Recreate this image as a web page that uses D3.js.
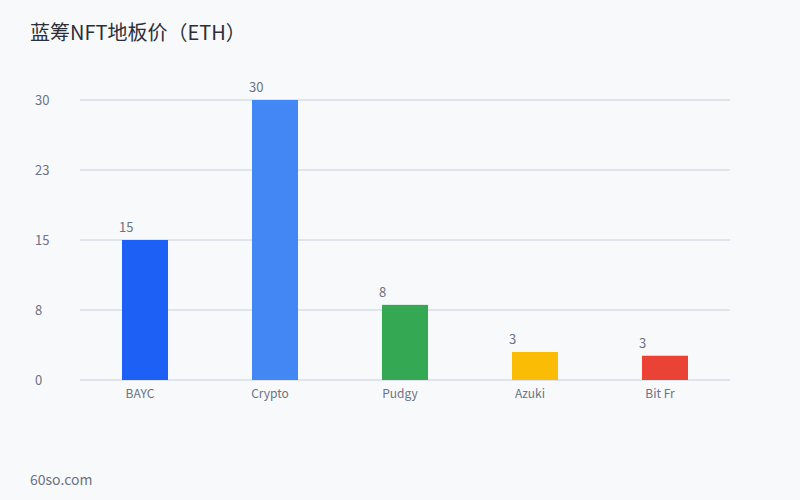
<!DOCTYPE html>
<html>
<head>
<meta charset="utf-8">
<script src="https://cdn.jsdelivr.net/npm/d3@7"></script>
<style>
  body { margin: 0; background: #f8f9fb; }
  text { font-family: "Noto Sans CJK SC", "Noto Sans", sans-serif; }
</style>
</head>
<body>
<div id="chart"></div>
<script>
// data
const names = ["BAYC", "Crypto", "Pudgy", "Azuki", "Bit Fr"];
const prices = [15, 30, 8.05, 3.0, 2.6];
const colors = ["#1c60f5", "#4387f5", "#34a853", "#fbbc05", "#ea4335"];
const yTicks = [0, 7.5, 15, 22.5, 30];

const width = 800;
const height = 500;
const margin = { top: 100, right: 70, bottom: 120, left: 80 };

const svg = d3.select("#chart")
    .append("svg")
    .attr("width", width)
    .attr("height", height);

svg.append("rect")
    .attr("width", width)
    .attr("height", height)
    .attr("fill", "#f8f9fb");

// title
svg.append("text")
    .attr("x", 30)
    .attr("y", 40)
    .attr("font-size", 20)
    .attr("fill", "#2b2f3a")
    .text("蓝筹NFT地板价（ETH）");

const x = d3.scaleBand()
    .domain(names)
    .range([margin.left, width - margin.right])
    .paddingInner(0.646)
    .paddingOuter(0.323);

const y = d3.scaleLinear()
    .domain([0, 30])
    .range([height - margin.bottom, margin.top]);

// grid lines
svg.selectAll(".grid")
    .data(yTicks)
    .join("line")
    .attr("x1", margin.left)
    .attr("x2", width - margin.right)
    .attr("y1", d => y(d))
    .attr("y2", d => y(d))
    .attr("stroke", "#c6cede")
    .attr("stroke-width", 1);

// y labels
svg.selectAll(".ylab")
    .data(yTicks)
    .join("text")
    .attr("x", 35)
    .attr("y", d => y(d))
    .attr("dy", "0.35em")
    .attr("font-size", 13)
    .attr("fill", "#6b7285")
    .text(d => d3.format(".0f")(Math.round(d)));

// bars
svg.selectAll(".bar")
    .data(prices)
    .join("rect")
    .attr("x", (d, i) => x(names[i]))
    .attr("y", d => y(d))
    .attr("width", x.bandwidth())
    .attr("height", d => y(0) - y(d))
    .attr("fill", (d, i) => colors[i]);

// value labels
svg.selectAll(".val")
    .data(prices)
    .join("text")
    .attr("x", (d, i) => x(names[i]) - 3)
    .attr("y", d => y(d) - 8)
    .attr("font-size", 13)
    .attr("fill", "#6b7285")
    .text(d => Math.round(d));

// x labels (slightly left of bar centre, as in the original)
svg.selectAll(".xlab")
    .data(names)
    .join("text")
    .attr("x", d => x(d) + x.bandwidth() / 2 - 5)
    .attr("y", y(0) + 14)
    .attr("dy", "0.35em")
    .attr("text-anchor", "middle")
    .attr("font-size", 12)
    .attr("fill", "#6b7285")
    .text(d => d);

// footer
svg.append("text")
    .attr("x", 30)
    .attr("y", 485)
    .attr("font-size", 14)
    .attr("fill", "#6b7285")
    .text("60so.com");
</script>
</body>
</html>
